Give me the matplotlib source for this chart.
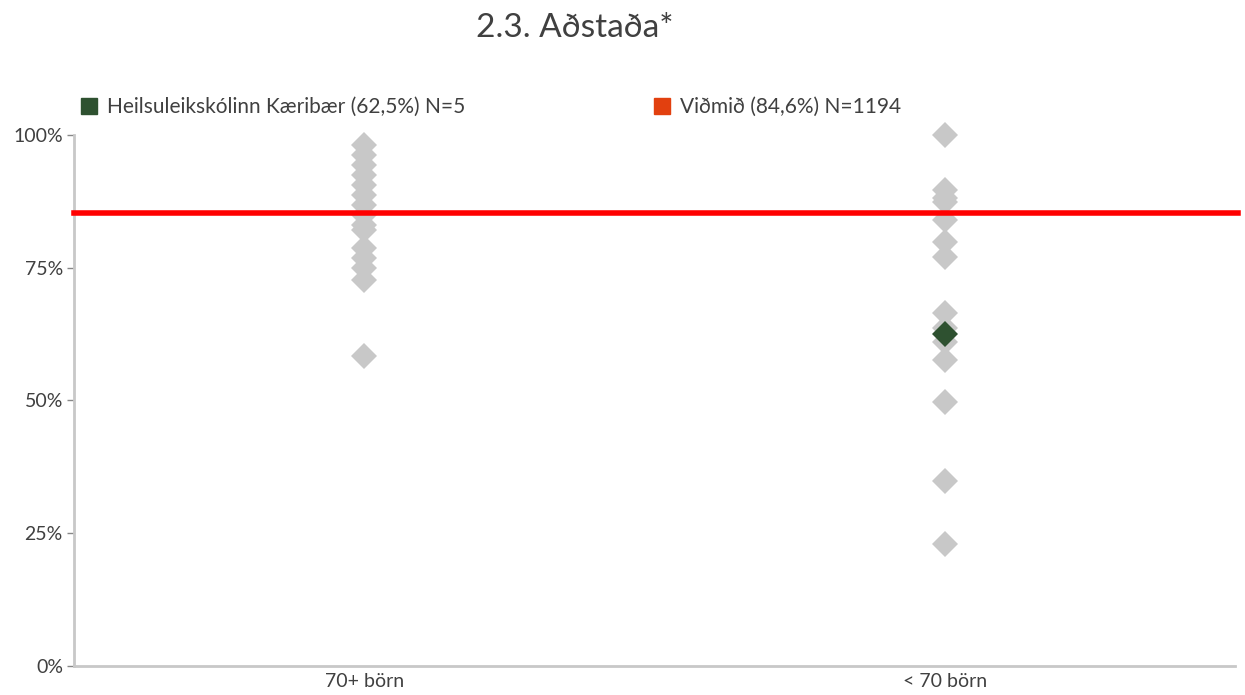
import matplotlib.pyplot as plt
from matplotlib.lines import Line2D

plt.rcParams['font.family'] = ['Lato', 'DejaVu Sans']

# data
categories = ['70+ börn', '< 70 börn']
group_70plus = [98.1, 96.2, 94.4, 92.5, 90.6, 88.7, 86.8, 85.0, 83.1, 82.1,
                78.8, 76.9, 75.0, 72.7, 58.3]
group_under70 = [100.0, 89.7, 88.2, 87.4, 84.0, 79.9, 77.1, 66.5, 63.7,
                 61.1, 57.7, 49.8, 34.8, 22.9]
school_cat = 1
school_value = 62.5
benchmark = 85.3
yticks = [0, 25, 50, 75, 100]
ytick_labels = ['0%', '25%', '50%', '75%', '100%']
legend_labels = ['Heilsuleikskólinn Kæribær (62,5%) N=5', 'Viðmið (84,6%) N=1194']

grey = '#c8c8c8'
green = '#2e5130'
red = '#ff0000'
legend_red = '#e2400f'
text_col = '#404040'

fig = plt.figure(figsize=(12.45, 6.95), dpi=100)
ax = fig.add_axes([74 / 1245, 1 - 666 / 695, (1235 - 74) / 1245, (666 - 135) / 695])

ms = 13
ax.plot([0] * len(group_70plus), group_70plus, 'D', color=grey, ms=ms, mew=0, zorder=2, clip_on=False)
ax.plot([1] * len(group_under70), group_under70, 'D', color=grey, ms=ms, mew=0, zorder=2, clip_on=False)
ax.plot([school_cat], [school_value], 'D', color=green, ms=ms, mew=0, zorder=4, clip_on=False)
ax.axhline(benchmark, color=red, lw=4, zorder=3, xmin=0, xmax=1.003, clip_on=False)

ax.set_xlim(-0.5, 1.5)
ax.set_ylim(0, 100)
ax.set_xticks([0, 1])
ax.set_xticklabels(categories)
ax.set_yticks(yticks)
ax.set_yticklabels(ytick_labels)
ax.tick_params(axis='x', length=0, labelsize=14, colors=text_col, pad=5)
ax.tick_params(axis='y', length=5, width=1, color='#888888', labelsize=14, colors=text_col, pad=3)

for side in ['top', 'right']:
    ax.spines[side].set_visible(False)
for side in ['left', 'bottom']:
    ax.spines[side].set_color(grey)
    ax.spines[side].set_linewidth(2)

handles = [Line2D([], [], marker='s', ls='', color=green, ms=11),
           Line2D([], [], marker='s', ls='', color=legend_red, ms=11)]
fig.legend(handles, legend_labels, loc='center left', bbox_to_anchor=(72 / 1245, 1 - 107 / 695),
           ncol=2, frameon=False, fontsize=15, labelcolor=text_col, handlelength=0.8,
           handletextpad=0.5, columnspacing=9.0, borderaxespad=0)

fig.text(575 / 1245, 1 - 28 / 695, '2.3. Aðstaða*', ha='center', va='center', fontsize=24,
         color=text_col)

plt.savefig('out.png', dpi=100)
